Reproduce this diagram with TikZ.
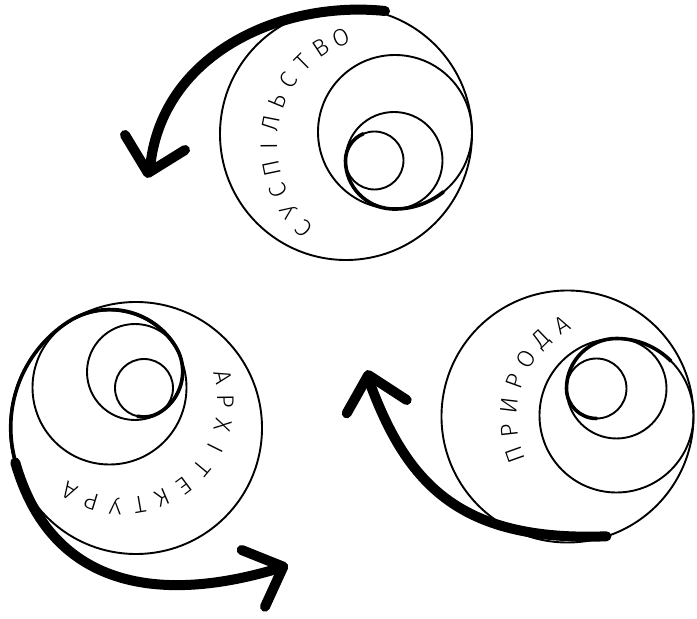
\documentclass[tikz,border=0pt]{standalone}
\usepackage{fontspec}
\newfontfamily\lab{Fira Sans}[UprightFont=* Light]
\begin{document}
\begin{tikzpicture}[x=1pt,y=1pt,
  ring/.style={line width=1.9pt},
  coil/.style={line width=3.6pt, line cap=round},
  shaft/.style={line width=10pt, line cap=round, line join=round},
  letter/.style={font=\lab\fontsize{24}{24}\selectfont, inner sep=0pt}]
\useasboundingbox (0,0) rectangle (697,619);

% ---------- top group: суспільство
\coordinate (t1) at (346,485);
\coordinate (t2) at (395,487);
\coordinate (t3) at (394,458.5);
\coordinate (t4) at (374.5,458.5);
\draw[ring] (t1) circle[radius=126];
\draw[ring] (t2) circle[radius=77];
\draw[ring] (t3) circle[radius=48.5];
\draw[ring] (t4) circle[radius=29];
\draw[coil] ([shift={(113:29)}]t4) arc[start angle=113,end angle=180,radius=29]
  arc[start angle=180,end angle=268,radius=48.5]
  arc[start angle=268,end angle=309,radius=77];
\coordinate (ta) at (385,608);
\coordinate (tb) at (150,450);
\coordinate (tt) at (148,446);
\coordinate (th1) at (125,484);
\coordinate (th2) at (185,469);
\draw[shaft] (ta) .. controls (280,619) and (160,564) .. (tb);
\draw[shaft] (th1) -- (tt) -- (th2);
\foreach \l [count=\i from 0] in {С,У,С,П,І,Л,Ь,С,Т,В,О}{
  \pgfmathsetmacro\a{226-11.4*\i}
  \node[letter, rotate=\a-90] (tl\i) at ([shift={(\a:116)}]385,474) {\l};}

% ---------- left group: архітектура
\coordinate (l1) at (136,191);
\coordinate (l2) at (109.5,231.5);
\coordinate (l3) at (135,247);
\coordinate (l4) at (144,231);
\draw[ring] (l1) circle[radius=126];
\draw[ring] (l2) circle[radius=77];
\draw[ring] (l3) circle[radius=48];
\draw[ring] (l4) circle[radius=29];
\draw[coil] ([shift={(-103:29)}]l4) arc[start angle=-103,end angle=-60.6,radius=29]
  arc[start angle=-60.6,end angle=31.3,radius=48]
  arc[start angle=31.3,end angle=123.2,radius=77]
  arc[start angle=123.2,end angle=196,radius=126];
\coordinate (la) at (15.3,156.5);
\coordinate (lb) at (283,52);
\coordinate (lt) at (283.3,52.3);
\coordinate (lh1) at (241.7,69);
\coordinate (lh2) at (265,12.3);
\draw[shaft] (la) .. controls (50.8,31.4) and (159,13.3) .. (lb);
\draw[shaft] (lh1) -- (lt) -- (lh2);
\foreach \l [count=\i from 0] in {А,Р,Х,І,Т,Е,К,Т,У,Р,А}{
  \pgfmathsetmacro\a{14-13.46*\i}
  \node[letter, rotate=\a-90] (ll\i) at ([shift={(\a:104)}]122,217) {\l};}

% ---------- right group: природа
\coordinate (r1) at (567.5,202.5);
\coordinate (r2) at (616.5,203.5);
\coordinate (r3) at (616.5,230.5);
\coordinate (r4) at (596.5,230.5);
\draw[ring] (r1) circle[radius=126];
\draw[ring] (r2) circle[radius=77];
\draw[ring] (r3) circle[radius=50];
\draw[ring] (r4) circle[radius=30];
\draw[coil] ([shift={(270:30)}]r4) arc[start angle=270,end angle=180,radius=30]
  arc[start angle=180,end angle=90,radius=50]
  arc[start angle=90,end angle=45,radius=77];
\coordinate (ra) at (606.4,82.7);
\coordinate (rb) at (368,241);
\coordinate (rt) at (368.3,244);
\coordinate (rh1) at (346.7,205.7);
\coordinate (rh2) at (406.7,219);
\draw[shaft] (ra) .. controls (457,77) and (405.4,137.6) .. (rb);
\draw[shaft] (rh1) -- (rt) -- (rh2);
\foreach \l [count=\i from 0] in {П,Р,И,Р,О,Д,А}{
  \pgfmathsetmacro\a{199.6-13.13*\i}
  \node[letter, rotate=\a-90] (rl\i) at ([shift={(\a:109)}]617.6,200.6) {\l};}
\end{tikzpicture}
\end{document}
